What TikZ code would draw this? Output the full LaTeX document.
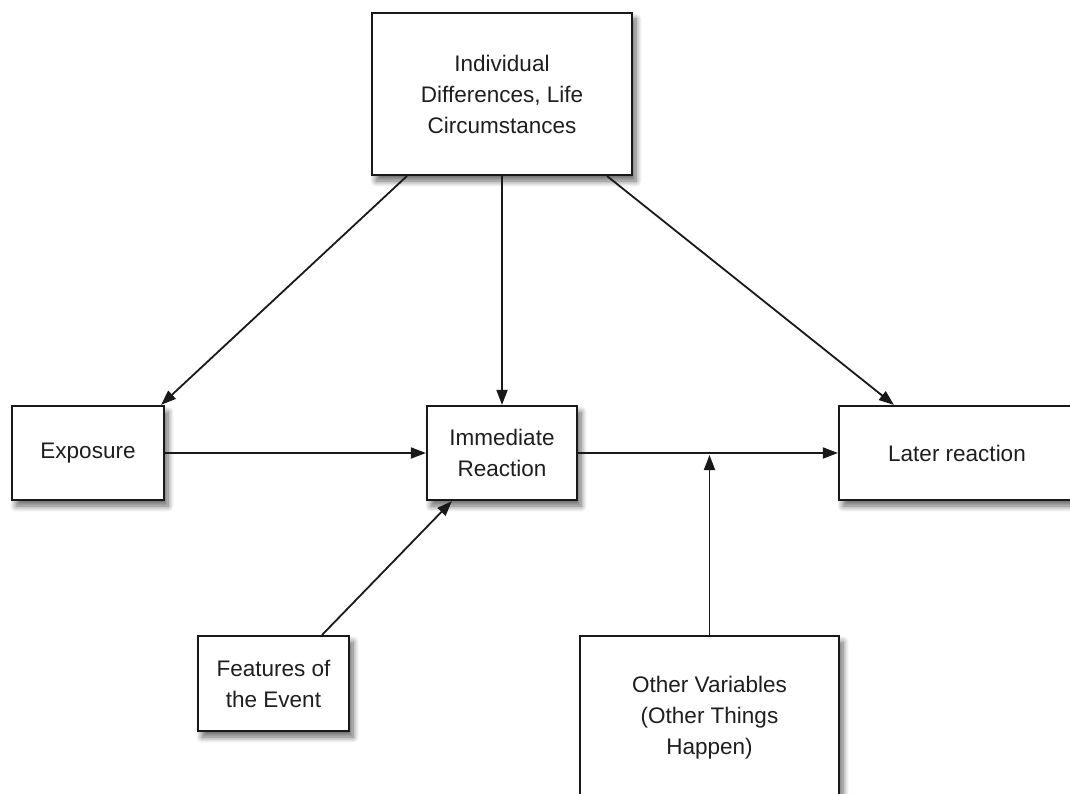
\documentclass[tikz,border=0pt]{standalone}
\usepackage{fontspec}
\setmainfont{Liberation Sans}
\usepackage{tikz}
\usetikzlibrary{arrows.meta, positioning, calc, shadows.blur}
\definecolor{boxline}{RGB}{25, 25, 25}
\definecolor{textgray}{RGB}{30, 30, 30}

\tikzset{
  factor/.style={draw=boxline, line width=2.2pt, fill=white, align=center,
    text=textgray, inner sep=0pt,
    blur shadow={shadow xshift=4pt, shadow yshift=-6pt, shadow blur steps=8, shadow blur radius=6pt, shadow opacity=60}},
  link/.style={line width=1.8pt, draw=black!90, -{Triangle[length=15pt, width=11pt]}}
}

\begin{document}
\begin{tikzpicture}[x=1pt, y=-1pt, font=\fontsize{22.5}{31}\selectfont]
  \useasboundingbox (0,0) rectangle (1070,794);
  \clip (0,0) rectangle (1070,794);

  \node[factor, minimum width=260pt, minimum height=162pt] (indiv) at (502,94)
    {Individual\\Differences, Life\\Circumstances};
  \node[factor, minimum width=152pt, minimum height=94pt] (expo) at (88,453) {Exposure};
  \node[factor, minimum width=150pt, minimum height=94pt] (immed) at (502,453) {Immediate\\Reaction};
  \node[factor, minimum width=236pt, minimum height=94pt] (later) at (957,453) {Later reaction};
  \node[factor, minimum width=151pt, minimum height=95pt] (feat) at (273.5,683.5) {Features of\\the Event};
  \node[factor, minimum width=259pt, minimum height=164pt] (other) at (709.5,718) {Other Variables\\(Other Things\\Happen)};

  \draw[link] ([xshift=36pt]indiv.south west) -- ([xshift=-4pt]expo.north east);
  \draw[link] (indiv.south) -- (immed.north);
  \draw[link] ([xshift=-26pt]indiv.south east) -- ([xshift=56pt]later.north west);
  \draw[link] (expo.east) -- (immed.west);
  \draw[link] (immed.east) -- (later.west);
  \draw[link, shorten >=2pt] (other.north) -- (other.north |- immed.east);
  \draw[link] ([xshift=-28pt]feat.north east) -- ([xshift=26pt]immed.south west);
\end{tikzpicture}
\end{document}
